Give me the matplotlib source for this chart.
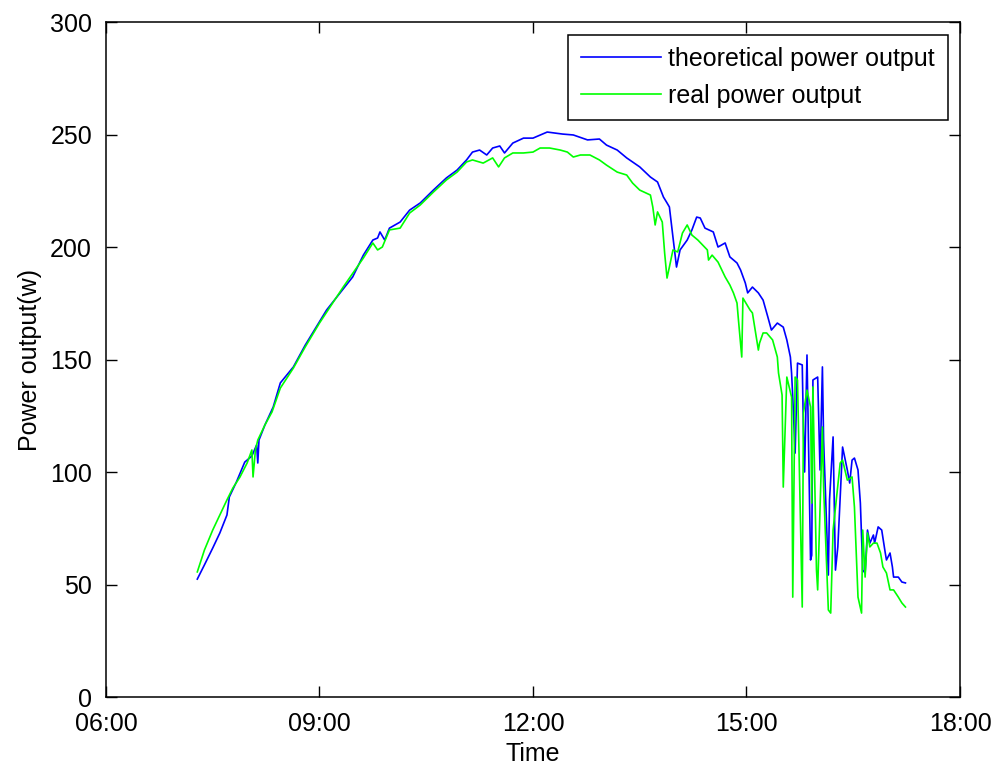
import matplotlib
matplotlib.use("Agg")
import matplotlib.pyplot as plt
from matplotlib.ticker import FuncFormatter, MultipleLocator

plt.rcParams['font.family'] = ['Liberation Sans', 'DejaVu Sans']

# theoretical output (W) against clock time
theo_time = [
    "07:17", "07:23", "07:30", "07:36", "07:42", "07:44", "07:50", "07:57", "08:03", "08:07",
    "08:08", "08:09", "08:14", "08:21", "08:27", "08:38", "08:48", "09:06", "09:28", "09:37",
    "09:45", "09:49", "09:51", "09:55", "09:59", "10:08", "10:16", "10:25", "10:36", "10:47",
    "10:56", "11:04", "11:09", "11:15", "11:21", "11:26", "11:32", "11:36", "11:43", "11:52",
    "12:00", "12:12", "12:25", "12:34", "12:46", "12:56", "13:02", "13:11", "13:19", "13:30",
    "13:39", "13:45", "13:50", "13:53", "13:55", "13:58", "14:00", "14:01", "14:04", "14:10",
    "14:14", "14:18", "14:21", "14:25", "14:32", "14:36", "14:42", "14:46", "14:52", "14:55",
    "14:59", "15:01", "15:05", "15:10", "15:14", "15:18", "15:21", "15:26", "15:31", "15:34",
    "15:37", "15:38", "15:39", "15:41", "15:43", "15:47", "15:48", "15:49", "15:51", "15:54",
    "15:55", "15:56", "16:00", "16:02", "16:04", "16:05", "16:09", "16:10", "16:13", "16:15",
    "16:17", "16:21", "16:25", "16:27", "16:29", "16:31", "16:34", "16:36", "16:38", "16:40",
    "16:42", "16:44", "16:47", "16:48", "16:51", "16:54", "16:57", "16:58", "17:01", "17:03",
    "17:04", "17:08", "17:11", "17:14",
]
theo_power = [
    52.4, 58.7, 66.2, 72.9, 80.9, 88.9, 95.6, 104.4, 107.1, 112.0,
    104.0, 114.2, 120.9, 128.9, 139.6, 146.7, 156.4, 172.0, 186.7, 196.4,
    203.1, 204.0, 206.7, 203.1, 208.4, 211.1, 216.4, 219.6, 225.3, 230.7,
    234.2, 238.7, 242.2, 243.1, 240.9, 244.0, 244.9, 241.8, 246.2, 248.4,
    248.4, 251.1, 250.2, 249.8, 247.6, 248.0, 245.3, 243.1, 239.6, 235.6,
    231.1, 228.9, 222.2, 219.6, 217.8, 204.4, 195.6, 191.1, 198.7, 203.1,
    207.6, 213.3, 212.9, 208.4, 206.7, 200.0, 201.8, 195.6, 192.9, 189.8,
    184.0, 179.6, 182.2, 179.6, 176.4, 168.9, 163.1, 166.2, 164.4, 158.7,
    151.1, 144.0, 133.3, 108.4, 148.4, 147.6, 118.7, 100.0, 152.0, 60.9,
    63.0, 140.9, 142.2, 100.9, 146.7, 114.2, 54.2, 87.6, 115.6, 56.4,
    66.7, 111.1, 100.9, 95.1, 105.3, 106.2, 100.9, 86.2, 56.4, 55.1,
    74.2, 68.4, 72.0, 68.4, 75.6, 74.2, 64.0, 60.9, 64.0, 57.8,
    53.3, 53.3, 51.1, 50.7,
]

# measured output (W)
real_time = [
    "07:17", "07:23", "07:30", "07:38", "07:42", "07:47", "07:53", "07:59", "08:03", "08:04",
    "08:06", "08:08", "08:14", "08:20", "08:27", "08:38", "08:48", "09:00", "09:20", "09:37",
    "09:45", "09:49", "09:53", "09:59", "10:08", "10:16", "10:25", "10:36", "10:47", "10:56",
    "11:04", "11:09", "11:18", "11:26", "11:31", "11:36", "11:43", "11:52", "12:00", "12:06",
    "12:14", "12:23", "12:29", "12:34", "12:40", "12:48", "12:56", "13:02", "13:11", "13:19",
    "13:24", "13:30", "13:39", "13:41", "13:43", "13:45", "13:49", "13:51", "13:53", "13:55",
    "13:58", "14:02", "14:06", "14:10", "14:14", "14:19", "14:27", "14:28", "14:31", "14:36",
    "14:42", "14:46", "14:49", "14:52", "14:53", "14:55", "14:56", "14:57", "15:03", "15:05",
    "15:10", "15:11", "15:14", "15:17", "15:22", "15:26", "15:27", "15:30", "15:31", "15:34",
    "15:38", "15:39", "15:41", "15:43", "15:47", "15:48", "15:51", "15:54", "15:55", "15:56",
    "15:59", "16:00", "16:04", "16:05", "16:09", "16:11", "16:13", "16:19", "16:21", "16:25",
    "16:29", "16:31", "16:34", "16:37", "16:38", "16:40", "16:42", "16:44", "16:47", "16:50",
    "16:53", "16:55", "16:58", "17:01", "17:04", "17:08", "17:11", "17:14",
]
real_power = [
    55.6, 65.3, 74.2, 83.1, 87.6, 92.9, 97.8, 104.0, 109.8, 97.8,
    109.8, 114.2, 120.9, 126.7, 137.3, 146.2, 155.6, 166.2, 182.2, 195.1,
    201.8, 198.7, 200.0, 207.6, 208.4, 215.1, 218.7, 224.4, 229.8, 233.3,
    237.8, 238.7, 237.3, 239.6, 235.6, 239.6, 241.8, 241.8, 242.2, 244.0,
    244.0, 243.1, 242.2, 240.0, 240.9, 240.9, 238.7, 236.4, 233.3, 232.0,
    228.4, 225.3, 223.1, 217.8, 209.8, 215.6, 211.1, 197.3, 186.2, 191.1,
    198.7, 197.8, 206.2, 209.8, 205.3, 203.1, 198.7, 194.2, 196.4, 193.3,
    186.7, 183.1, 179.6, 175.1, 168.9, 157.3, 151.1, 177.3, 172.0, 170.7,
    154.2, 157.3, 161.8, 161.8, 158.7, 151.1, 144.0, 134.2, 93.3, 142.2,
    133.3, 44.4, 142.2, 140.9, 40.0, 126.2, 136.4, 128.9, 86.2, 137.8,
    56.4, 47.6, 120.0, 93.3, 38.7, 37.3, 74.2, 104.0, 105.3, 96.4,
    97.8, 84.4, 44.4, 37.3, 74.2, 53.3, 72.9, 66.7, 68.4, 68.4,
    64.0, 57.8, 55.1, 47.6, 47.6, 44.4, 41.8, 40.0,
]


def to_hours(stamps):
    out = []
    for s in stamps:
        h, m = s.split(":")
        out.append(int(h) + int(m) / 60.0)
    return out


fig = plt.figure(figsize=(9.94, 7.70), dpi=100)
ax = fig.add_axes([0.1066, 0.0948, 0.8592, 0.8766])

ax.plot(to_hours(theo_time), theo_power, color=(0, 0, 1), lw=1.2, label="theoretical power output")
ax.plot(to_hours(real_time), real_power, color=(0, 1, 0), lw=1.2, label="real power output")

ax.set_xlim(6, 18)
ax.set_ylim(0, 300)
ax.xaxis.set_major_locator(MultipleLocator(3))
ax.xaxis.set_major_formatter(FuncFormatter(lambda v, p: "%02d:00" % int(round(v))))
ax.yaxis.set_major_locator(MultipleLocator(50))

ax.tick_params(direction="in", length=8, width=1, top=True, right=True, labelsize=18)
ax.tick_params(axis="x", pad=11)
ax.tick_params(axis="y", pad=10)
for sp in ax.spines.values():
    sp.set_linewidth(1.1)

ax.set_xlabel("Time", fontsize=18, labelpad=4)
ax.set_ylabel("Power output(w)", fontsize=18, labelpad=6)

leg = ax.legend(loc="upper right", fontsize=18, fancybox=False, framealpha=1,
                edgecolor="black", handlelength=3.2, handletextpad=0.3,
                labelspacing=0.5, borderaxespad=0.5, borderpad=0.5)
leg.get_frame().set_linewidth(1.1)

fig.savefig("out.png", dpi=100)
